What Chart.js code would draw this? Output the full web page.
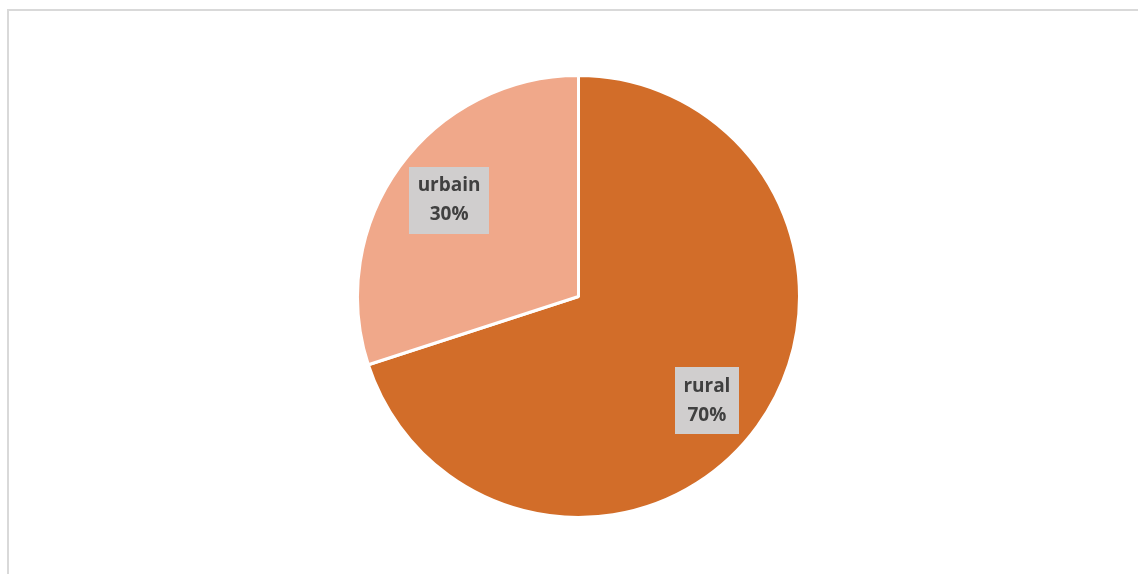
<!DOCTYPE html>
<html>
<head>
<meta charset="utf-8">
<script src="https://cdn.jsdelivr.net/npm/chart.js@4"></script>
<style>
  html, body { margin: 0; padding: 0; background: #fff; }
  #page { position: relative; width: 1138px; height: 574px; overflow: hidden; }
  #frame { position: absolute; left: 7px; top: 9px; width: 1200px; height: 700px;
           border-top: 2px solid #d9d9d9; border-left: 2px solid #d9d9d9; }
  #wrap { position: absolute; left: 356px; top: 74px; width: 445px; height: 445px; }
</style>
</head>
<body>
<div id="page">
  <div id="frame"></div>
  <div id="wrap"><canvas id="pieChart"></canvas></div>
</div>
<script>
// répartition de la population
const categories = ['rural', 'urbain'];
const values = [70, 30];
const colors = ['#D26D29', '#F0A88A'];

// étiquettes grises avec nom + pourcentage
const boxLabels = {
    id: 'boxLabels',
    afterDatasetsDraw(chart, args, opts) {
        const ctx = chart.ctx;
        const meta = chart.getDatasetMeta(0);
        ctx.save();
        ctx.font = 'bold 19px "Open Sans", "Liberation Sans", sans-serif';
        ctx.textAlign = 'center';
        ctx.textBaseline = 'middle';
        meta.data.forEach((arc, i) => {
            const p = arc.getProps(['x', 'y', 'startAngle', 'endAngle', 'outerRadius'], true);
            const mid = (p.startAngle + p.endAngle) / 2;
            const r = p.outerRadius * 0.735;
            const shift = opts.shift[i] || [0, 0];
            const cx = p.x + Math.cos(mid) * r + shift[0];
            const cy = p.y + Math.sin(mid) * r + shift[1];
            const lines = [categories[i], values[i] + '%'];
            const w = Math.max(...lines.map(t => ctx.measureText(t).width)) + 17;
            const h = 67;
            ctx.fillStyle = '#D0CECE';
            ctx.fillRect(Math.round(cx - w / 2), Math.round(cy - h / 2), Math.round(w), h);
            ctx.fillStyle = '#404040';
            ctx.fillText(lines[0], cx, cy - 14);
            ctx.fillText(lines[1], cx, cy + 15);
        });
        ctx.restore();
    }
};

const ctx = document.getElementById('pieChart').getContext('2d');
const pieChart = new Chart(ctx, {
    type: 'pie',
    data: {
        labels: categories,
        datasets: [{
            data: values,
            backgroundColor: colors,
            borderColor: '#ffffff',
            borderWidth: 3
        }]
    },
    options: {
        responsive: true,
        maintainAspectRatio: false,
        animation: false,
        events: [],
        layout: { padding: 0 },
        plugins: {
            legend: { display: false },
            tooltip: { enabled: false },
            boxLabels: { shift: [[-3, 9], [2, -1]] }
        }
    },
    plugins: [boxLabels]
});
</script>
</body>
</html>
